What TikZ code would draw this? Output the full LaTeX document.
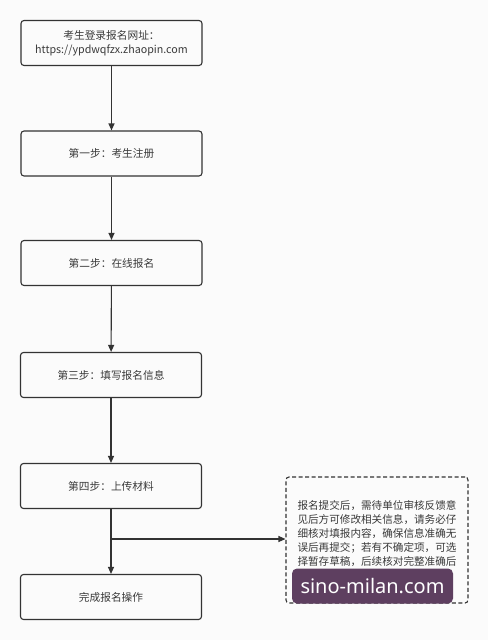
\documentclass[tikz,border=0pt]{standalone}
\usepackage{fontspec}
\setmainfont{Noto Sans CJK SC}
\newfontfamily\wmfont{Noto Sans}
\usetikzlibrary{arrows.meta}
\definecolor{ink}{HTML}{333333}
\definecolor{txt}{HTML}{3A3A3A}
\definecolor{wm}{HTML}{5E3F60}
\begin{document}
\begin{tikzpicture}[x=1pt,y=-1pt,
  stepbox/.style={draw=ink,line width=1.1pt,rounded corners=3pt,minimum width=181pt,minimum height=45pt,inner sep=2pt,align=center,text=txt,font=\fontsize{10.7}{13.5}\selectfont},
  notebox/.style={draw=ink,line width=1.1pt,dashed,dash pattern=on 4pt off 2.5pt,rounded corners=3pt,minimum width=182pt,minimum height=126pt,align=left,text=txt,font=\fontsize{10.6}{14}\selectfont},
  arr/.style={draw=ink,line width=1.1pt,-{Triangle[length=7pt,width=6pt]}}]
\useasboundingbox[fill=white!97!gray] (0,0) rectangle (488,640);
\node[stepbox] (s0) at (111.5,43) {考生登录报名网址：\\https://ypdwqfzx.zhaopin.com};
\node[stepbox] (s1) at (111.5,153.5) {第一步：考生注册};
\node[stepbox] (s2) at (111.5,263) {第二步：在线报名};
\node[stepbox] (s3) at (111,375) {第三步：填写报名信息};
\node[stepbox] (s4) at (111,486) {第四步：上传材料};
\node[stepbox] (s5) at (111,597) {完成报名操作};
\node[notebox] (n) at (377,540) {报名提交后，需待单位审核反馈意\\见后方可修改相关信息，请务必仔\\细核对填报内容，确保信息准确无\\误后再提交；若有不确定项，可选\\择暂存草稿，后续核对完整准确后\\提交报名。};
\coordinate (b) at (s4.south |- 0,539);
\draw[arr] (s0) -- (s1);
\draw[arr] (s1) -- (s2);
\draw[arr] (s2) -- (s3);
\draw[arr] (s3) -- (s4);
\draw[arr] (s4) -- (s5);
\draw[arr] (b) -- (n.west |- b);
\node[fill=wm,rounded corners=5pt,minimum width=161pt,minimum height=35pt,inner sep=0pt,text=white,font=\wmfont\fontsize{20}{22}\selectfont] (w) at (372.5,586) {sino-milan.com};
\end{tikzpicture}
\end{document}
